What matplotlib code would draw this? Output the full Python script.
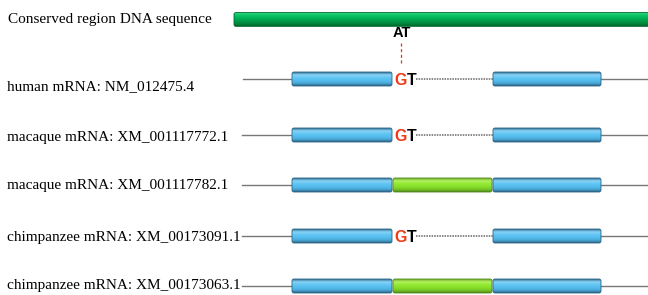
import matplotlib
matplotlib.use("Agg")
import matplotlib.pyplot as plt
import numpy as np
from matplotlib.patches import FancyBboxPatch
from matplotlib.colors import LinearSegmentedColormap

# ---- data ----
conserved_label = "Conserved region DNA sequence"
conserved_span = (234, 660)
labels = ["human mRNA: NM_012475.4",
          "macaque mRNA: XM_001117772.1",
          "macaque mRNA: XM_001117782.1",
          "chimpanzee mRNA: XM_00173091.1",
          "chimpanzee mRNA: XM_00173063.1"]
line_start = [243, 242, 242, 242, 242]
exon1 = (292, 392)
alt_exon = (392, 492)
exon2 = (493, 601)
has_alt_exon = [False, False, True, False, True]
variant_ref = "AT"
variant_alt = ("G", "T")

W, H = 648, 295
fig = plt.figure(figsize=(W / 100, H / 100), dpi=100)
ax = fig.add_axes([0, 0, 1, 1])
ax.set_xlim(0, W)
ax.set_ylim(H, 0)
ax.axis("off")

row_y = [79, 135, 185, 236, 286]
label_dy = [8, 2, 0, 1, -1]
bar_h = 14

blue_stops = ["#336f94", "#8ad3f6", "#62c6f4", "#55bdee", "#4aa8d6", "#2c6485"]
green_exon_stops = ["#6fae2a", "#b4f060", "#92ea34", "#88e02c", "#78c826", "#4f8a1a"]
green_bar_stops = ["#3ad88a", "#10c868", "#00b558", "#00a04c", "#008a40", "#006a30"]


def draw_bar(x0, x1, yc, h, stops, z=3, pad=2.0):
    cmap = LinearSegmentedColormap.from_list("g", stops)
    grad = np.linspace(0, 1, 64).reshape(-1, 1)
    patch = FancyBboxPatch((x0 + pad, yc - h / 2 + pad), (x1 - x0) - 2 * pad, h - 2 * pad,
                           boxstyle=f"round,pad={pad}", linewidth=0.6,
                           edgecolor=stops[-1], facecolor="none", zorder=z + 1)
    ax.add_patch(patch)
    im = ax.imshow(grad, cmap=cmap, aspect="auto",
                   extent=(x0, x1, yc + h / 2, yc - h / 2), zorder=z,
                   interpolation="bilinear")
    im.set_clip_path(patch)


serif = "Liberation Serif"
sans = "Liberation Sans"

# conserved region
ax.text(8, 20, conserved_label, fontsize=11, family=serif, va="center", ha="left")
draw_bar(conserved_span[0], conserved_span[1], 19.5, 14, green_bar_stops)

for i, lab in enumerate(labels):
    y = row_y[i]
    ax.text(7, y + label_dy[i], lab, fontsize=11, family=serif, va="center", ha="left")
    ax.plot([line_start[i], W], [y, y], color="#777777", lw=1.0, zorder=1)
    if has_alt_exon[i]:
        ax.plot([exon1[1], exon2[0]], [y, y], color="white", lw=3, zorder=2)
        draw_bar(exon1[0], exon1[1], y, bar_h, blue_stops)
        draw_bar(alt_exon[0] + 1, alt_exon[1], y, bar_h, green_exon_stops)
        draw_bar(exon2[0], exon2[1], y, bar_h, blue_stops)
    else:
        ax.plot([exon1[1], exon2[0]], [y, y], color="white", lw=3, zorder=2)
        ax.plot([416, exon2[0]], [y, y], color="#666666", lw=1.1,
                ls=(0, (1.0, 0.7)), zorder=2)
        draw_bar(exon1[0], exon1[1], y, bar_h, blue_stops)
        draw_bar(exon2[0], exon2[1], y, bar_h, blue_stops)
        ax.text(401, y + 6, variant_alt[0], fontsize=11.5, family=sans, weight="bold",
                color="#f03a18", va="baseline", ha="center", zorder=5)
        ax.text(412, y + 6, variant_alt[1], fontsize=11.5, family=sans, weight="bold",
                color="black", va="baseline", ha="center", zorder=5)

# reference allele annotation
ax.text(402, 33, variant_ref, fontsize=10.5, family=sans, weight="bold",
        color="black", va="center", ha="center")
ax.plot([401, 401], [43, 65], color="#ee3311", lw=0.9, ls=(0, (2.5, 2)))

fig.savefig("out.png", dpi=100)
